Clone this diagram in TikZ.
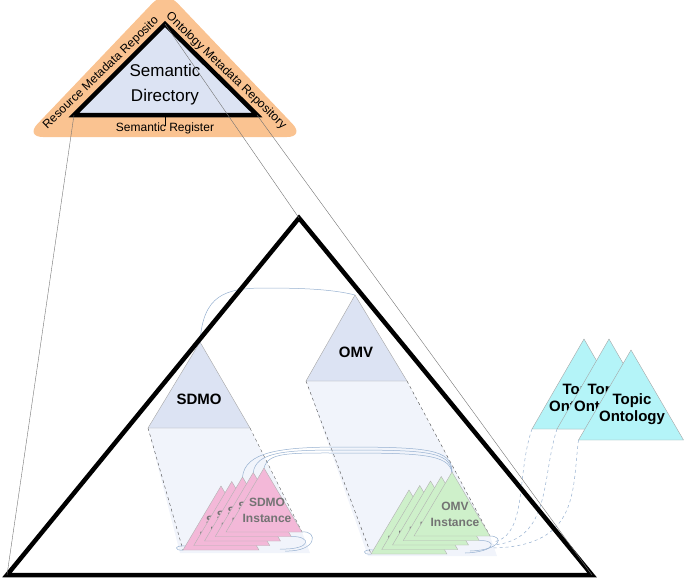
\documentclass[tikz,border=0pt]{standalone}
\usepackage{fontspec}
\setmainfont{Liberation Sans}
\definecolor{dirorange}{RGB}{250,195,145}
\definecolor{dirfill}{RGB}{220,227,243}
\definecolor{projfill}{RGB}{241,244,251}
\definecolor{sdmopink}{RGB}{243,184,216}
\definecolor{omvgreen}{RGB}{206,240,202}
\definecolor{topiccyan}{RGB}{180,244,248}
\definecolor{linkblue}{RGB}{150,176,208}

\begin{document}
\begin{tikzpicture}[x=1pt,y=-1pt,
    every node/.style={inner sep=0pt},
    side/.style={font=\fontsize{12}{14}\selectfont},
    head/.style={font=\bfseries\fontsize{15}{17}\selectfont,align=center},
    inst/.style={font=\bfseries\fontsize{12}{16}\selectfont,align=center,text=black!55},
    sdmotri/.style={fill=sdmopink,draw=gray!60,line width=0.4pt},
    omvtri/.style={fill=omvgreen,draw=gray!60,line width=0.4pt},
    topictri/.style={fill=topiccyan,draw=gray!70,line width=0.4pt},
    link/.style={draw=linkblue,line width=0.5pt},
    guide/.style={draw=black!70,line width=0.4pt,dashed}]
\useasboundingbox (0,0) rectangle (685,579);

% semantic directory
\coordinate (dA) at (165,24);
\coordinate (dL) at (74,115);
\coordinate (dR) at (257,115);
\fill[dirorange,rounded corners=18pt] (165,-10) -- (25,137) -- (305,137) -- cycle;
\filldraw[fill=dirfill,line width=4.5pt] (dA) -- (dL) -- (dR) -- cycle;
\node[font=\fontsize{17}{25}\selectfont,align=center] (dir) at (165,85) {Semantic\\Directory};
\node[side] (reg) at (165,128) {Semantic Register};
\node[side,rotate=44] (rmr) at (101,73) {Resource Metadata Reposito};
\node[side,rotate=-44] (omr) at (226,71) {Ontology Metadata Repository};
\draw[line width=0.4pt] (165,115) -- (165,126);

% big triangle corners
\coordinate (bA) at (299,218);
\coordinate (bL) at (7,575);
\coordinate (bR) at (592,575);

% projections
\fill[projfill] (148,428) -- (250,428) -- (302,532) -- (310,553) -- (180,553) -- cycle;
\fill[projfill] (306,381) -- (407,381) -- (490,536) -- (497,556) -- (368,556) -- cycle;
\draw[guide] (148,428) -- (183,550);
\draw[guide] (250,428) -- (302,532);
\draw[guide] (306,381) -- (371,554);
\draw[guide] (407,381) -- (490,536);

% ontologies
\filldraw[fill=dirfill,draw=gray!70,line width=0.4pt] (200,342) -- (250,428) -- (148,428) -- cycle;
\node[head] (sdmo) at (199,399) {SDMO};
\filldraw[fill=dirfill,draw=gray!70,line width=0.4pt] (355,295) -- (407,381) -- (306,381) -- cycle;
\node[head] (omv) at (356,352) {OMV};
\draw[link] (200,342) .. controls (203,295) and (225,288) .. (265,288)
    .. controls (310,288) and (335,290) .. (355,295);

% sdmo instances
\filldraw[sdmotri] (221,486) -- ++(38,64) -- ++(-76,0) -- cycle;
\node[inst] (sdmoI4) at (224,528) {SDMO\\Instance};
\filldraw[sdmotri] (231.75,481.5) -- ++(38,64) -- ++(-76,0) -- cycle;
\node[inst] (sdmoI3) at (234.75,523.5) {SDMO\\Instance};
\filldraw[sdmotri] (242.5,477) -- ++(38,64) -- ++(-76,0) -- cycle;
\node[inst] (sdmoI2) at (245.5,519) {SDMO\\Instance};
\filldraw[sdmotri] (253.25,472.5) -- ++(38,64) -- ++(-76,0) -- cycle;
\node[inst] (sdmoI1) at (256.25,514.5) {SDMO\\Instance};
\filldraw[sdmotri] (264,468) -- ++(38,64) -- ++(-76,0) -- cycle;
\node[inst] (sdmoI0) at (267,510) {SDMO\\Instance};

% omv instances
\filldraw[omvtri] (409,490) -- ++(38,64) -- ++(-76,0) -- cycle;
\node[inst] (omvI4) at (412,532) {OMV\\Instance};
\filldraw[omvtri] (419.75,485.5) -- ++(38,64) -- ++(-76,0) -- cycle;
\node[inst] (omvI3) at (422.75,527.5) {OMV\\Instance};
\filldraw[omvtri] (430.5,481) -- ++(38,64) -- ++(-76,0) -- cycle;
\node[inst] (omvI2) at (433.5,523) {OMV\\Instance};
\filldraw[omvtri] (441.25,476.5) -- ++(38,64) -- ++(-76,0) -- cycle;
\node[inst] (omvI1) at (444.25,518.5) {OMV\\Instance};
\filldraw[omvtri] (452,472) -- ++(38,64) -- ++(-76,0) -- cycle;
\node[inst] (omvI0) at (455,514) {OMV\\Instance};

% instance links
\draw[link] (264,468) .. controls (268,452) and (290,453) .. (340,453)
    .. controls (420,453) and (448,454) .. (452,472);
\draw[link] (253.25,472.5) .. controls (256,452) and (285,450) .. (340,450)
    .. controls (425,450) and (450,451) .. (452,472);
\draw[link] (242.5,477) .. controls (245,452) and (280,447) .. (340,447)
    .. controls (428,447) and (452,449) .. (452,472);
\draw[link] (302,532) .. controls (318,530) and (318,552) .. (285,551);
\draw[link] (291.25,536.5) .. controls (312,536) and (312,550) .. (280,549);
\draw[link] (183,550) .. controls (174,551) and (174,545) .. (185,546);
\draw[link] (490,536) .. controls (504,536) and (502,550) .. (470,551);
\draw[link] (479.25,540.5) .. controls (498,540) and (496,552) .. (465,553);
\draw[link] (371,554) .. controls (362,555) and (362,549) .. (373,550);

% topic ontologies
\filldraw[topictri] (584,339) -- (636,429) -- (532,429) -- cycle;
\node[head] (topic2) at (582,399) {Topic\\Ontology};
\filldraw[topictri] (609,339) -- (661,429) -- (557,429) -- cycle;
\node[head] (topic1) at (607,399) {Topic\\Ontology};
\filldraw[topictri] (631,350) -- (683.5,440) -- (578.5,440) -- cycle;
\node[head] (topic0) at (632,409) {Topic\\Ontology};
\draw[link,dashed] (532,429) .. controls (516,475) and (528,536) .. (493,542);
\draw[link,dashed] (557,429) .. controls (541,478) and (552,540) .. (493,545);
\draw[link,dashed] (578.5,440) .. controls (572,490) and (580,546) .. (493,548);

% semantic directory frame
\draw[line width=4.5pt] (bA) -- (bL) -- (bR) -- cycle;
\draw[black!55,line width=0.4pt] (dL) -- (bL);
\draw[black!55,line width=0.4pt] (dA) -- (bA);
\draw[black!55,line width=0.4pt] (dR) -- (bR);
\end{tikzpicture}
\end{document}
